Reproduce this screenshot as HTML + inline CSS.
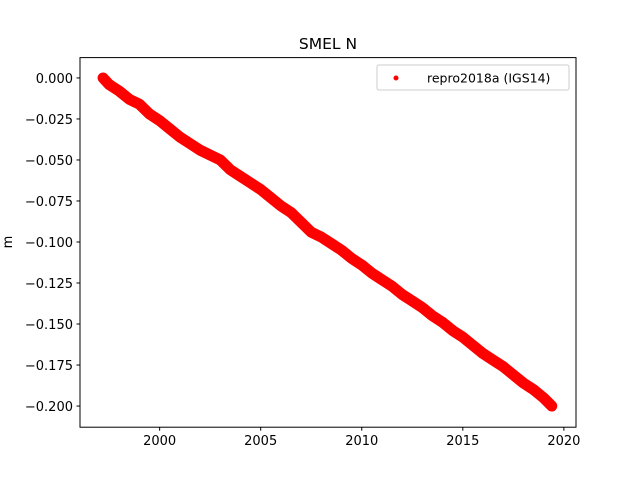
<!DOCTYPE html>
<html><head><meta charset="utf-8"><style>
body{margin:0;background:#fff}
svg text{font-family:"DejaVu Sans","Liberation Sans",sans-serif;fill:#000}
</style></head><body>
<svg id="chart" width="640" height="480">
<rect width="640" height="480" fill="#fff"/>
<text x="328" y="49" font-size="15.5" text-anchor="middle">SMEL N</text>
<text x="0" y="0" font-size="13" text-anchor="middle" transform="translate(12,242) rotate(-90)">m</text>
<g id="series"></g>
<g id="xticks"></g>
<g id="yticks"></g>
<rect x="80" y="57.6" width="496" height="369.6" fill="none" stroke="#000" stroke-width="1"/>
<g>
<rect x="377" y="65" width="192" height="25" rx="2" fill="#fff" stroke="#ccc"/>
<circle cx="396" cy="78" r="2.5" fill="red"/>
<text x="427" y="82.5" font-size="12.5">repro2018a (IGS14)</text>
</g>
</svg>
<script>
const years=[1997.2,1997.5,1998,1998.5,1999,1999.5,2000,2000.5,2001,2001.5,2002,2002.5,2003,2003.5,2004,2004.5,2005,2005.5,2006,2006.5,2007,2007.5,2008,2008.5,2009,2009.5,2010,2010.5,2011,2011.5,2012,2012.5,2013,2013.5,2014,2014.5,2015,2015.5,2016,2016.5,2017,2017.5,2018,2018.5,2019,2019.4];
const values=[0.000,-0.004,-0.008,-0.013,-0.016,-0.022,-0.026,-0.031,-0.036,-0.040,-0.044,-0.047,-0.050,-0.056,-0.060,-0.064,-0.068,-0.073,-0.078,-0.082,-0.088,-0.094,-0.097,-0.101,-0.105,-0.110,-0.114,-0.119,-0.123,-0.127,-0.132,-0.136,-0.140,-0.145,-0.149,-0.154,-0.158,-0.163,-0.168,-0.172,-0.176,-0.181,-0.186,-0.190,-0.195,-0.200];
const xTicks=[2000,2005,2010,2015,2020];
const yTicks=[0,-0.025,-0.05,-0.075,-0.1,-0.125,-0.15,-0.175,-0.2];
const NS="http://www.w3.org/2000/svg";
const X0=80,X1=576,Y0=57.6,Y1=427.2,xmin=1996.06,xmax=2020.6,ymin=-0.2129,ymax=0.0124;
function sx(v){return X0+(v-xmin)/(xmax-xmin)*(X1-X0);}
function sy(v){return Y1-(v-ymin)/(ymax-ymin)*(Y1-Y0);}
function mk(t,a,p){const e=document.createElementNS(NS,t);for(const k in a)e.setAttribute(k,a[k]);p.appendChild(e);return e;}
const g=document.getElementById('series');
const line=mk('polyline',{points:years.map((y,i)=>sx(y)+','+sy(values[i])).join(' '),fill:'none',stroke:'red','stroke-width':11,'stroke-linejoin':'round','stroke-linecap':'round'},g);


years.forEach((y,i)=>{const c=mk('circle',{cx:sx(y),cy:sy(values[i]),r:3,fill:'red'},g);

});
const xg=document.getElementById('xticks');
xTicks.forEach(t=>{const x=sx(t);
const l=mk('line',{x1:x,x2:x,y1:Y1,y2:Y1+3.5,stroke:'#000'},xg);


const tx=mk('text',{x:x,y:Y1+18,'font-size':13,'text-anchor':'middle'},xg);tx.textContent=t;

});
const yg=document.getElementById('yticks');
yTicks.forEach(t=>{const y=sy(t);
const l=mk('line',{x1:X0-3.5,x2:X0,y1:y,y2:y,stroke:'#000'},yg);


const tx=mk('text',{x:X0-7,y:y+5,'font-size':13,'text-anchor':'end'},yg);tx.textContent=(t===0?'0.000':'\u2212'+Math.abs(t).toFixed(3));

});
</script>
</body></html>
